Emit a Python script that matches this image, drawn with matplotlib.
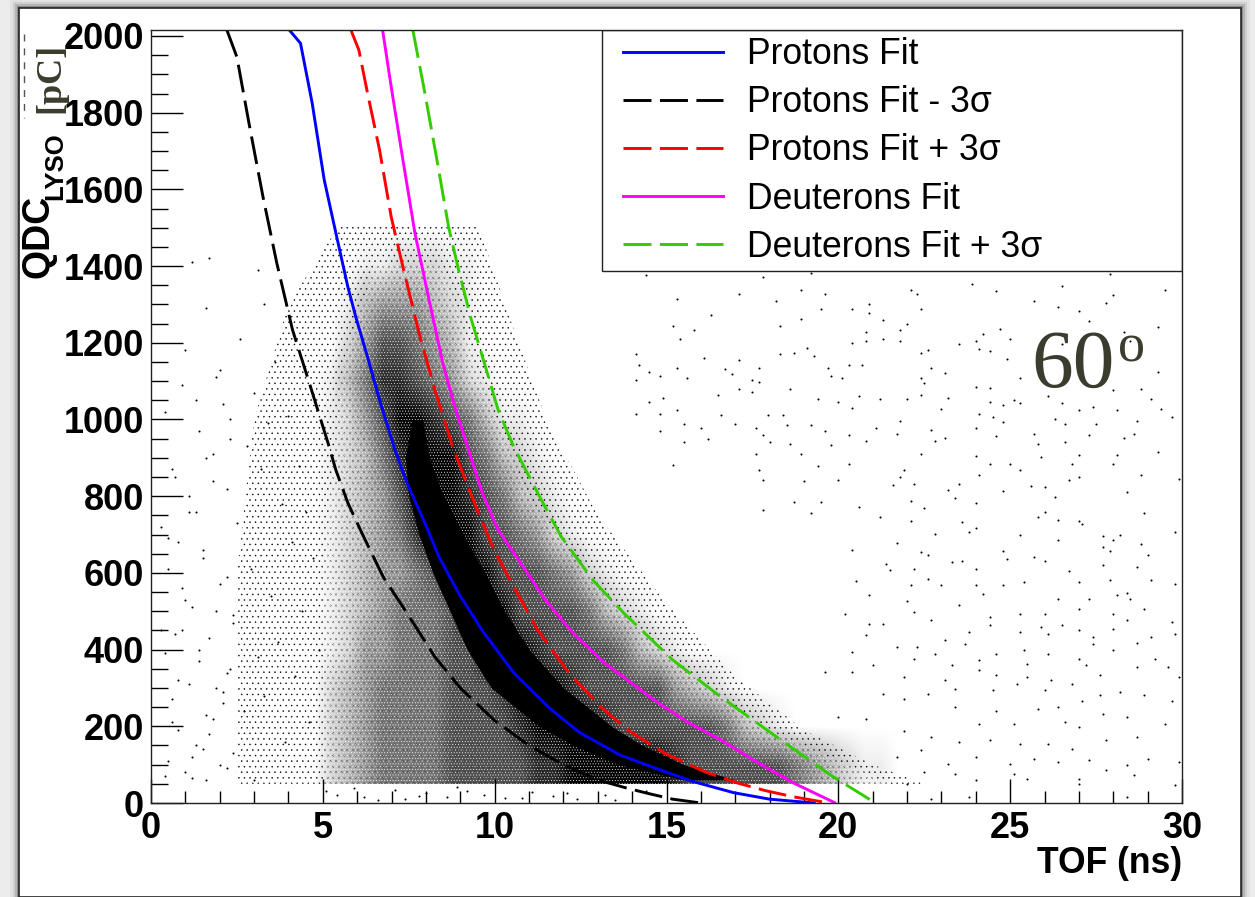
import numpy as np
import matplotlib
matplotlib.use('Agg')
import matplotlib.pyplot as plt
from matplotlib.patches import Rectangle, Polygon
from matplotlib.ticker import MultipleLocator

W, H = 1255, 897

# fit curves (TOF ns, QDC pC)
proton_x = [4.03, 4.35, 4.69, 5.04, 5.38, 5.73, 5.96, 6.30, 6.65, 7.10, 7.45, 7.97, 8.38, 8.95, 9.63, 10.56, 11.59, 12.45, 13.65, 14.82, 15.77, 16.95, 18.0, 19.3]
proton_y = [2015, 1981, 1825, 1625, 1486, 1345, 1267, 1163, 1051, 920, 834, 730, 642, 547, 451, 339, 248, 185, 125, 86, 56, 27, 10, 0]
minus_x = [2.21, 2.5, 2.85, 3.26, 3.66, 4.12, 4.58, 5.15, 5.38, 5.73, 6.19, 6.76, 7.45, 8.26, 9.0, 10.0, 11.0, 12.0, 13.0, 13.88, 14.46, 15.18, 16.0]
minus_y = [2015, 1945, 1773, 1580, 1408, 1233, 1103, 939, 868, 782, 694, 589, 495, 381, 300, 215, 150, 100, 60, 38, 25, 10, 0]
plus_x = [5.82, 6.05, 6.30, 6.65, 6.99, 7.33, 7.8, 8.26, 8.78, 9.41, 9.98, 10.56, 11.25, 12.16, 13.09, 13.88, 14.94, 16.12, 17.07, 17.89, 18.7, 19.66]
plus_y = [2015, 1963, 1851, 1703, 1528, 1398, 1225, 1077, 928, 782, 660, 563, 451, 339, 250, 190, 130, 81, 52, 32, 16, 1]
deut_x = [6.74, 6.99, 7.33, 7.68, 8.09, 8.49, 8.84, 9.24, 9.64, 10.1, 10.56, 11.48, 12.28, 13.2, 14.71, 15.65, 16.59, 17.53, 18.7, 19.89]
deut_y = [2015, 1867, 1677, 1486, 1312, 1147, 1033, 920, 808, 712, 652, 529, 443, 365, 264, 209, 164, 112, 52, 1]
deutp_x = [7.62, 7.97, 8.32, 8.66, 8.95, 9.3, 9.76, 10.1, 10.56, 11.36, 11.94, 12.86, 13.76, 15.18, 16.59, 18.13, 19.77, 21.06]
deutp_y = [2015, 1851, 1677, 1502, 1390, 1267, 1129, 1025, 928, 790, 694, 581, 495, 373, 276, 177, 73, 1]

# solid black core of the cloud
core_y = [1000, 900, 800, 700, 600, 500, 400, 300, 200, 150, 100, 60]
core_left = [7.6, 7.4, 7.5, 7.8, 8.2, 8.7, 9.2, 9.9, 11.3, 12.3, 13.6, 15.5]
core_right = [7.9, 8.1, 8.5, 9.1, 9.7, 10.3, 11.0, 12.0, 13.4, 14.3, 15.5, 17.0]

# outline of the stippled cloud
cloud_x = [2.5, 2.5, 3.0, 4.0, 5.5, 9.5, 10.5, 11.5, 13.0, 15.0, 17.0, 19.0, 21.0, 22.5]
cloud_y = [50, 600, 1000, 1300, 1510, 1510, 1250, 1000, 750, 520, 330, 190, 100, 50]
# outline of the busy part, where white shows between the dots
busy_x = [5.0, 5.0, 5.6, 6.5, 8.5, 9.6, 11.0, 13.0, 15.5, 18.0, 20.5, 21.5]
busy_y = [50, 600, 1150, 1400, 1400, 1100, 800, 560, 350, 190, 90, 50]

# how dark the cloud looks, 0-9, one row per 100 pC from 1500 down to 100,
# one digit per 0.5 ns from 0 ns
density_rows = [
    "000000000000111111111",
    "000000001111223332211",
    "000000011112455543211",
    "0001111111135776542111",
    "00111111112468876532111",
    "0011111111235799876422111",
    "01111111112346899976432111",
    "111111111123457999876432111",
    "1111111111234568999776532111",
    "111111111123455679997776532111",
    "11111111112345666799977776432111",
    "1111111111235566677999877776432111",
    "1111111111345666677789998777775432111",
    "1111111111345666677778999987777776432111",
    "11111111113456666777778899999987777776543221",
]

# single points that can be told apart
dots_x = [14.4, 17.8, 19.2, 27.9, 23.9, 24.6, 26.5, 29.5, 17.1, 18.9, 19.6, 22.1, 22.3, 15.3, 18.2, 25.7, 28.0, 27.8, 19.5, 20.4, 20.9, 20.9, 22.4, 26.4, 27.0, 16.3, 18.9, 21.3, 27.3, 15.2, 18.3, 22.0, 21.8, 24.7, 29.3, 15.8, 20.8, 24.2, 28.3, 15.4, 20.4, 20.8, 21.3, 21.8, 24.0, 25.0, 26.5, 28.5, 23.5, 24.1, 22.6, 22.4, 24.4, 18.3, 18.7, 19.1, 19.3, 14.1, 16.1, 17.1, 24.9, 14.2, 20.3, 20.7, 15.3, 16.7, 17.7, 19.7, 22.7, 14.5, 16.9, 19.8, 23.1, 29.3, 14.8, 22.4, 25.3, 14.1, 15.6, 17.5, 17.7, 20.1, 22.5, 24.0, 17.1, 18.6, 24.4, 28.0, 28.8, 17.5, 16.5, 20.6, 26.1, 22.4, 23.2, 19.4, 21.2, 22.0, 29.1, 25.1, 14.9, 14.5, 20.0, 24.4, 26.5, 25.3, 24.8, 29.4, 20.4, 23.0, 27.4, 15.3, 27.0, 28.1, 14.1, 16.6, 17.95, 18.4, 24.1, 24.5, 14.8, 29.7, 26.3, 28.7, 15.5, 17.0, 18.5, 19.2, 21.8, 24.8, 26.6, 27.5, 17.6, 21.1, 24.0, 16.0, 19.6, 25.7, 22.7, 14.8, 21.7, 27.3, 28.6, 17.8, 20.3, 24.6, 28.3, 23.1, 16.2, 25.8, 15.5, 18.0, 18.6, 19.8, 20.8, 22.8, 26.6,
          29.3, 27.0, 28.1, 22.4, 24.0, 25.9, 17.6, 18.9, 25.0, 26.8, 28.0, 24.4, 20.3, 15.2, 19.4, 17.7, 21.9, 25.3, 28.8, 27.0, 24.1, 21.8, 26.7, 29.9, 20.0, 19.0, 17.8, 23.5, 22.2, 26.0, 28.4, 24.8, 23.2, 21.6, 25.6, 18.7, 23.4, 19.5, 26.3, 22.1, 24.0, 20.6, 22.5, 28.9, 17.8, 26.0, 19.2, 25.8, 21.2, 22.1, 26.4, 27.0, 23.6, 24.0, 27.1, 22.8, 23.8, 29.8, 25.3, 27.7, 28.0, 28.2, 26.4, 21.7, 27.7, 28.8, 22.4, 24.8, 27.9, 20.4, 29.0, 22.6, 25.7, 26.0, 24.9, 23.3, 23.6, 21.4, 27.7, 28.7, 22.2, 24.0, 26.7, 21.5, 25.4, 22.6, 20.5, 27.0, 29.1, 27.9, 23.0, 29.8, 24.8, 24.0, 22.1, 28.1, 26.4, 24.2, 20.9, 28.4, 27.3, 22.0, 28.5, 23.5, 27.0, 28.9, 25.3, 22.2, 24.4, 26.0, 20.2, 28.0, 29.7, 20.9, 24.4, 28.4, 22.7, 21.3, 26.5, 25.9, 23.8, 28.0, 25.3, 27.0, 26.1, 20.8, 27.4, 29.1, 29.8, 23.1, 21.7, 22.3, 25.4, 23.7, 28.7, 27.4, 20.4, 22.8, 24.6, 28.0, 26.1, 22.2, 24.1, 27.0, 29.2, 25.5, 21.0, 27.2, 23.3, 28.7, 19.6, 24.1, 20.4, 27.6, 29.6, 21.9, 24.6, 25.5, 23.1, 26.2, 26.8, 29.9, 25.2, 28.2, 26.0, 23.4, 27.1, 24.5, 28.9, 22.6, 21.3, 27.6, 21.9, 26.4, 24.6, 29.7, 25.8, 23.4, 20.0, 27.7, 20.8, 26.6, 28.4, 24.1, 25.1, 29.5, 21.9, 22.7, 27.0, 23.5, 28.7, 26.1, 24.4, 25.3, 27.8, 22.4, 21.7, 26.8, 24.0, 25.7, 29.0, 29.9, 23.2, 25.0, 27.3, 28.4, 26.4, 22.5, 27.8, 23.4, 27.0, 25.1, 25.5, 24.0, 28.6, 22.0, 29.8, 27.0, 28.4, 22.7, 23.8,
          1.2, 1.7, 3.1, 3.3, 1.6, 1.0, 2.0, 2.6, 0.4, 1.3, 2.3, 3.0, 3.6, 1.8, 2.8, 0.7, 1.1, 3.4, 2.2, 4.0, 0.5, 1.5, 2.5, 3.2, 3.8, 4.3, 0.9, 1.9, 2.9, 4.5, 0.3, 1.4, 2.4, 3.5, 4.1, 4.7, 0.8, 2.1, 3.1, 3.7, 4.4, 0.6, 1.7, 2.7, 3.3, 4.2, 4.9, 1.2, 2.2, 3.9, 4.6, 0.4, 1.6, 3.0, 5.1, 5.4, 6.2, 7.1, 7.4, 8.0, 8.6, 9.2, 9.7, 10.3, 11.1, 11.7, 12.4, 13.2, 14.4, 5.9, 6.6, 7.8, 8.9, 10.8, 12.1, 13.5,
          0.9, 1.4, 1.9, 2.3, 0.6, 1.1, 1.6, 2.1, 0.3, 0.8, 1.3, 1.8, 2.2, 0.5, 1.0, 1.5, 2.0, 2.4, 0.7, 1.2, 1.7, 2.3, 0.4, 0.9, 1.4, 1.9, 2.2, 0.6, 1.1, 1.6, 2.1, 0.8, 1.3, 1.8, 2.4, 0.5, 1.0, 1.5, 2.0, 1.2]
dots_y = [1376, 1372, 1382, 1379, 1353, 1334, 1349, 1337, 1327, 1337, 1327, 1337, 1327, 1315, 1308, 1308, 1324, 1304, 1289, 1289, 1301, 1278, 1289, 1294, 1282, 1272, 1263, 1259, 1256, 1244, 1244, 1248, 1233, 1237, 1240, 1233, 1228, 1222, 1228, 1211, 1200, 1205, 1211, 1205, 1205, 1211, 1198, 1205, 1196, 1185, 1181, 1174, 1178, 1170, 1174, 1187, 1166, 1170, 1161, 1154, 1158, 1143, 1143, 1143, 1133, 1131, 1133, 1133, 1133, 1124, 1118, 1114, 1121, 1124, 1114, 1109, 1109, 1102, 1107, 1102, 1098, 1107, 1094, 1085, 1080, 1080, 1083, 1076, 1080, 1072, 1063, 1061, 1061, 1063, 1057, 1054, 1054, 1054, 1054, 1050, 1057, 1046, 1046, 1046, 1043, 1043, 1039, 1028, 1031, 1028, 1033, 1024, 1024, 1024, 1015, 1011, 1011, 1011, 1015, 1006, 1015, 1006, 1000, 996, 989, 989, 985, 985, 996, 993, 989, 989, 979, 979, 979, 979, 970, 963, 973, 970, 961, 960, 963, 960, 960, 957, 953, 953, 950, 937, 941, 941, 937, 933, 944, 944, 941,
          916, 907, 907, 911, 904, 903, 911, 911, 885, 885, 883, 885, 885, 881, 878, 868, 868, 868, 855, 850, 855, 850, 843, 846, 842, 840, 842, 833, 833, 824, 811, 814, 817, 829, 826, 785, 794, 785, 798, 788, 781, 772, 770, 755, 765, 759, 755, 746, 746, 736, 739, 736, 733, 716, 727, 701, 707, 707, 698, 696, 687, 698, 685, 678, 668, 675, 655, 656, 656, 659, 646, 646, 642, 631, 635, 629, 631, 624, 620, 615, 611, 611, 605, 607, 576, 585, 579, 576, 582, 581, 568, 572, 568, 569, 568, 542, 533, 546, 542, 548, 533, 528, 533, 515, 507, 507, 494, 498, 485, 494, 494, 494, 472, 468, 463, 476, 476, 468, 463, 459, 446, 455, 446, 450, 441, 437, 433, 433, 441, 424, 407, 407, 398, 415, 417, 415, 394, 389, 389, 398, 389, 376, 372, 376, 376, 363, 359, 359, 359, 355, 341, 346, 341, 333, 355, 328, 333, 328, 320, 320, 311, 328, 311, 289, 294, 298, 267, 294, 281, 285, 285, 281, 272, 250, 241, 267, 246, 250, 224, 233, 220, 211, 224, 207, 207, 207, 189, 172, 198, 159, 172, 154, 163, 154, 163, 137, 120, 141, 120, 115, 115, 107, 102, 102, 111, 98, 107, 80, 85, 76, 63, 76, 63, 59, 72, 50, 46, 50, 15, 11, 15,
          1410, 1420, 1390, 1300, 1290, 1180, 1130, 1210, 1020, 1050, 1000, 1070, 1150, 910, 930, 850, 760, 990, 820, 1010, 690, 640, 730, 870, 780, 880, 560, 500, 610, 760, 450, 400, 470, 540, 680, 640, 320, 290, 380, 420, 500, 210, 180, 240, 280, 330, 400, 120, 90, 160, 210, 70, 60, 60, 30, 20, 15, 35, 10, 25, 15, 30, 20, 12, 28, 18, 10, 22, 30, 40, 8, 18, 42, 12, 25, 8,
          1090, 970, 1110, 950, 870, 800, 900, 1040, 720, 680, 760, 840, 590, 610, 530, 660, 570, 490, 440, 510, 430, 350, 390, 450, 370, 300, 340, 270, 310, 230, 260, 190, 150, 220, 130, 110, 80, 140, 100, 65]

legend_labels = ['Protons Fit', 'Protons Fit - 3σ', 'Protons Fit + 3σ', 'Deuterons Fit', 'Deuterons Fit + 3σ']


def fx(px):
    return px / W


def fy(py):
    return 1 - py / H


plt.rcParams['hatch.linewidth'] = 0.3

fig = plt.figure(figsize=(W / 100, H / 100), dpi=100, facecolor='#ececec')

# slide panel with its soft shadow
for grow, grey in [(9, '#e2e2e2'), (6, '#cfcfcf'), (4, '#b4b4b4'), (2, '#8a8a8a')]:
    fig.add_artist(Rectangle((fx(19 - grow), 0), (1222 + 2 * grow) / W, fy(8 - grow), transform=fig.transFigure,
                             facecolor=grey, edgecolor='none', zorder=-3))
fig.add_artist(Rectangle((fx(19), 0), 1222 / W, fy(8), transform=fig.transFigure,
                         facecolor='white', edgecolor='#222222', linewidth=1.2, zorder=-2))

ax = fig.add_axes([fx(151), fy(803), (1182 - 151) / W, (803 - 30) / H])
ax.set_xlim(0, 30)
ax.set_ylim(0, 2015.6)

dens = np.array([[int(c) for c in r.ljust(44, '0')] for r in density_rows])
dens = np.clip(dens - 1, 0, 8) / 8.0
ax.imshow(dens ** 1.3, extent=[0, 22, 50, 1550], origin='upper', aspect='auto', cmap='gray_r',
          vmin=0, vmax=1, interpolation='bilinear', zorder=1)
ax.add_patch(Polygon(np.column_stack([cloud_x, cloud_y]), closed=True, fill=False, edgecolor='black',
                     linewidth=0, hatch='...', zorder=1.2))
ax.add_patch(Polygon(np.column_stack([busy_x, busy_y]), closed=True, fill=False, edgecolor='white',
                     linewidth=0, hatch='......', zorder=1.4))
ax.fill_betweenx(core_y, core_left, core_right, color='black', linewidth=0, zorder=2)
ax.scatter(dots_x, dots_y, s=2.2, c='black', linewidths=0, zorder=3)

dash = (0, (9.6, 2.9))
style = dict(linewidth=2.1, zorder=4)
l1, = ax.plot(proton_x, proton_y, color='#0000ff', **style)
l2, = ax.plot(minus_x, minus_y, color='black', linestyle=dash, **style)
l3, = ax.plot(plus_x, plus_y, color='#ff0000', linestyle=dash, **style)
l4, = ax.plot(deut_x, deut_y, color='#ff00ff', **style)
l5, = ax.plot(deutp_x, deutp_y, color='#33cc00', linestyle=dash, **style)

ax.xaxis.set_major_locator(MultipleLocator(5))
ax.xaxis.set_minor_locator(MultipleLocator(1))
ax.yaxis.set_major_locator(MultipleLocator(200))
ax.yaxis.set_minor_locator(MultipleLocator(50))
ax.tick_params(axis='x', which='major', direction='in', length=17, width=1, pad=6)
ax.tick_params(axis='x', which='minor', direction='in', length=9, width=1)
ax.tick_params(axis='y', which='major', direction='in', length=23, width=1, pad=5)
ax.tick_params(axis='y', which='minor', direction='in', length=12, width=1)
for lab in ax.get_xticklabels() + ax.get_yticklabels():
    lab.set_fontfamily('Liberation Sans')
    lab.set_fontweight('bold')
    lab.set_fontsize(26)
for sp in ax.spines.values():
    sp.set_color('#222222')
    sp.set_linewidth(1)
    sp.set_zorder(5)

# legend box is wider than its entries
ax.add_patch(Rectangle(((602 - 151) / 1031, (803 - 271) / 773), (1182 - 602) / 1031, 241 / 773,
                       transform=ax.transAxes, facecolor='white', edgecolor='#222222', linewidth=1, zorder=5))
leg = ax.legend([l1, l2, l3, l4, l5], legend_labels, loc='upper left', frameon=False,
                bbox_to_anchor=((616 - 151) / 1031, 1), borderaxespad=0, borderpad=0.2,
                prop={'family': 'Liberation Sans', 'size': 25.6}, handlelength=2.82, handletextpad=0.66,
                labelspacing=0.37)
leg.set_zorder(6)

fig.text(fx(1182), fy(863), 'TOF (ns)', ha='right', va='center', family='Liberation Sans',
         fontweight='bold', fontsize=25.6)
fig.text(fx(38), fy(278), 'QDC', rotation=90, ha='center', va='bottom', family='Liberation Sans',
         fontweight='bold', fontsize=27)
fig.text(fx(55), fy(200), 'LYSO', rotation=90, ha='center', va='bottom', family='Liberation Sans',
         fontweight='bold', fontsize=18.5)
fig.text(fx(51), fy(113), '[pC]', rotation=90, ha='center', va='bottom', family='Liberation Serif',
         fontweight='bold', fontsize=26, color='#3b3b2e', zorder=7)
fig.add_artist(plt.Line2D([fx(24), fx(24)], [fy(34), fy(118)], color='#555555', linewidth=1,
                          linestyle=(0, (5, 5))))
fig.text(fx(1031), fy(387), '60', ha='left', va='baseline', family='Liberation Serif', fontsize=60,
         color='#3b3b2e', zorder=7)
fig.text(fx(1118), fy(361), 'o', ha='left', va='baseline', family='Liberation Serif', fontsize=39,
         color='#3b3b2e', zorder=7)

fig.savefig('out.png', dpi=100, facecolor=fig.get_facecolor())
